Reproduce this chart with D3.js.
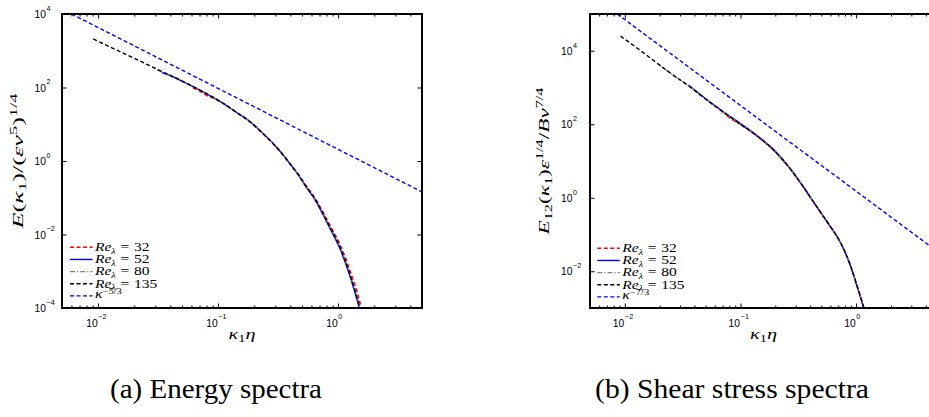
<!DOCTYPE html>
<html><head><meta charset="utf-8">
<script src="https://cdn.jsdelivr.net/npm/d3@7"></script>
<style>
body{margin:0;background:#fff}
</style>
</head><body>
<svg id="c" width="929" height="417" xmlns="http://www.w3.org/2000/svg"></svg>
<script>
// ---------- DATA ----------
// (a) Energy spectra  E(k1)/(eps nu^5)^(1/4)
const kL32  = [0.0617,0.0700,0.0794,0.0891,0.100,0.110,0.126,0.141,0.184,0.229,0.286,0.339,0.394,0.468,0.543,0.646,0.746,0.871,1.032,1.250,1.514,1.62];
const eL32  = [96,80,62,52,44,37.5,28,21.2,11.5,6.1,3.0,1.62,0.88,0.43,0.21,0.095,0.0415,0.0160,0.0056,0.0011,1.5e-4,6e-5];
const kL52  = [0.0339,0.0398,0.0582,0.0794,0.110,0.141,0.184,0.229,0.286,0.339,0.394,0.468,0.543,0.646,0.746,0.871,1.032,1.250,1.514,1.56];
const eL52  = [255,212,116,68.5,37.0,21.6,11.9,6.25,3.05,1.63,0.860,0.405,0.192,0.0851,0.0358,0.0130,0.00420,7.6e-4,8.9e-5,6e-5];
const kL80  = [0.031,0.0398,0.0582,0.0794,0.110,0.141,0.184,0.229,0.286,0.339,0.394,0.468,0.543,0.646,0.746,0.871,1.032,1.250,1.514,1.585];
const eL80  = [300,215,118,69.5,37.5,21.5,11.8,6.2,3.05,1.64,0.88,0.42,0.203,0.0905,0.0386,0.0143,0.00475,8.9e-4,1.1e-4,6.5e-5];
const kL135 = [0.00912,0.0158,0.0251,0.0398,0.0582,0.0794,0.110,0.141,0.184,0.229,0.286,0.339,0.394,0.468,0.543,0.646,0.746,0.871,1.032,1.250,1.514,1.585];
const eL135 = [2090,891,437,214,117,69.2,37.2,21.4,11.7,6.17,3.02,1.62,0.871,0.417,0.200,0.0891,0.0380,0.0141,0.00468,8.71e-4,1.07e-4,6.3e-5];
const kRefL = [0.006,5];
const eRefL = [10000,0.144];

// (b) Shear stress spectra  E12(k1) eps^(1/4) / B nu^(7/4)
const kR32  = [0.0631,0.0716,0.0800,0.0900,0.100,0.139,0.200,0.270,0.355,0.446,0.562,0.708,0.813,0.923,1.035,1.164,1.21];
const eR32  = [295,205,150,120,98,47,17.5,5.95,1.80,0.625,0.216,0.0715,0.0298,0.0104,0.00336,0.00101,0.0007];
const kR52  = [0.0355,0.0501,0.0716,0.100,0.139,0.200,0.270,0.355,0.446,0.562,0.708,0.813,0.923,1.035,1.164,1.19];
const eR52  = [1170,495,215,104,49.5,18.5,6.2,1.86,0.64,0.221,0.0730,0.0300,0.0103,0.00330,0.00098,0.00075];
const kR80  = [0.01905,0.0251,0.0372,0.0501,0.0716,0.100,0.139,0.200,0.270,0.355,0.446,0.562,0.708,0.813,0.923,1.035,1.164,1.202];
const eR80  = [4500,2380,1010,482,211,101,48.5,18.1,6.1,1.85,0.64,0.222,0.0735,0.0305,0.0107,0.00345,0.00104,0.00072];
const kR135 = [0.00918,0.01413,0.01905,0.0251,0.0372,0.0501,0.0716,0.100,0.139,0.200,0.270,0.355,0.446,0.562,0.708,0.813,0.923,1.035,1.164,1.202];
const eR135 = [25100,9330,4570,2400,1000,479,209,100,47.9,17.8,6.03,1.82,0.631,0.219,0.0724,0.0302,0.0105,0.00339,0.00102,0.00071];
const kRefR = [0.0086,5];
const eRefR = [100000,0.035];

const xMajor = [0.01,0.1,1];
const xMinor = [0.005,0.006,0.007,0.008,0.009,0.02,0.03,0.04,0.05,0.06,0.07,0.08,0.09,0.2,0.3,0.4,0.5,0.6,0.7,0.8,0.9,2,3,4,5];
const yMajorL = [1e-4,1e-2,1,1e2,1e4];
const yMajorR = [1e-2,1,1e2,1e4];
const legendRe = ["32","52","80","135"];
const captions = ["(a) Energy spectra","(b) Shear stress spectra"];

// ---------- STYLE ----------
const SERIF = "'Liberation Serif', 'Times New Roman', serif";
const SANS = "'Liberation Sans', Arial, sans-serif";
const seriesStyle = [
  {color:"#ff0000", dash:"4,2.5"},
  {color:"#0000ff", dash:null},
  {color:"#808080", dash:"5,2,1.2,2"},
  {color:"#000000", dash:"4,2.5"}
];
const refStyle = {color:"#0000ff", dash:"4,2.5"};

const svg = d3.select("#c");
svg.append("rect").attr("width",929).attr("height",417).attr("fill","#fff");

function mathText(sel, segs, size) {
  let shift = 0;
  segs.forEach(s => {
    const target = s.s==='sub' ? 0.24*size : s.s==='sup' ? -0.42*size : 0;
    const ts = sel.append("tspan").text(s.t)
      .attr("dy", target - shift)
      .attr("font-size", (s.s ? size*(s.r||0.7) : size))
      .attr("font-style", s.i ? "italic" : "normal");
    if (s.dx) ts.attr("dx", s.dx);
    shift = target;
  });
}

const panels = [
  {x0:62, x1:422, y0:14, y1:308, yDom:[1e-4,1e4], yMajor:yMajorL,
   series:[[kL32,eL32],[kL52,eL52],[kL80,eL80],[kL135,eL135]], ref:[kRefL,eRefL],
   refExp:"\u22125/3", lblOff:16, legX:70, legY:247.3,
   ylab:[{t:"E",i:1},{t:"("},{t:"κ",i:1},{t:"1",s:"sub"},{t:")"},{t:"/"},{t:"("},{t:"ε",i:1},{t:"ν",i:1},{t:"5",s:"sup"},{t:")"},{t:"1/4",s:"sup"}],
   ylabX:23, ylabLen:135, capX:216, capW:212},
  {x0:590, x1:937, y0:14, y1:308, yDom:[1e-3,1e5], yMajor:yMajorR,
   series:[[kR32,eR32],[kR52,eR52],[kR80,eR80],[kR135,eR135]], ref:[kRefR,eRefR],
   refExp:"\u22127/3", lblOff:17.5, legX:597.3, legY:248.3,
   ylab:[{t:"E",i:1},{t:"12",s:"sub"},{t:"("},{t:"κ",i:1},{t:"1",s:"sub"},{t:")"},{t:"ε",i:1},{t:"1/4",s:"sup"},{t:"/"},{t:"B",i:1},{t:"ν",i:1},{t:"7/4",s:"sup"}],
   ylabX:549, ylabLen:147, capX:732, capW:274}
];

panels.forEach((p, pi) => {
  const x = d3.scaleLog().domain([0.005,5]).range([p.x0,p.x1]);
  const y = d3.scaleLog().domain(p.yDom).range([p.y1,p.y0]);
  const g = svg.append("g");
  const clipId = "clip"+pi;
  svg.append("clipPath").attr("id",clipId).append("rect")
    .attr("x",p.x0).attr("y",p.y0).attr("width",p.x1-p.x0).attr("height",p.y1-p.y0);
  const line = d3.line().x(d=>x(d[0])).y(d=>y(d[1])).curve(d3.curveMonotoneX);
  const plot = g.append("g").attr("clip-path",`url(#${clipId})`);
  p.series.forEach((s, si) => {
    const pts = s[0].map((k,i)=>[k, s[1][i]]);
    plot.append("path").attr("d", line(pts)).attr("fill","none")
      .attr("stroke", seriesStyle[si].color).attr("stroke-width",1.4)
      .attr("stroke-dasharray", seriesStyle[si].dash);
  });
  const rpts = p.ref[0].map((k,i)=>[k,p.ref[1][i]]);
  plot.append("path").attr("d", d3.line().x(d=>x(d[0])).y(d=>y(d[1]))(rpts))
    .attr("fill","none").attr("stroke",refStyle.color).attr("stroke-width",1.4)
    .attr("stroke-dasharray",refStyle.dash);

  // axes (inward ticks)
  const mk = (axis, sc, vals, size, tr) => {
    const a = g.append("g").attr("transform",tr)
      .call(axis(sc).tickValues(vals).tickSizeInner(-size).tickSizeOuter(0).tickFormat(()=>""));
    a.select(".domain").remove();
    a.attr("font-family", SANS);
    a.selectAll(".tick line").attr("stroke","#000").attr("stroke-width",1);
    return a;
  };
  mk(d3.axisBottom, x, xMinor, 2.5, `translate(0,${p.y1})`);
  mk(d3.axisTop, x, xMinor, 2.5, `translate(0,${p.y0})`);
  const bx = mk(d3.axisBottom, x, xMajor, 4.5, `translate(0,${p.y1})`);
  mk(d3.axisTop, x, xMajor, 4.5, `translate(0,${p.y0})`);
  const ly = mk(d3.axisLeft, y, p.yMajor, 4.5, `translate(${p.x0},0)`);
  mk(d3.axisRight, y, p.yMajor, 4.5, `translate(${p.x1},0)`);

  bx.selectAll(".tick").each(function(v){
    const e = Math.round(Math.log10(v));
    const t = d3.select(this);
    t.selectAll("text").remove();
    t.append("text").attr("font-family",SANS).attr("x",-1).attr("y",18.6).attr("text-anchor","end")
      .attr("font-size",10.3).attr("fill","#000").text("10");
    t.append("text").attr("font-family",SANS).attr("x",-0.3).attr("y",11).attr("text-anchor","start")
      .attr("font-size",7.2).attr("fill","#000").text(e<0?"\u2212"+(-e):String(e));
  });
  ly.selectAll(".tick").each(function(v){
    const e = Math.round(Math.log10(v));
    const t = d3.select(this);
    t.selectAll("text").remove();
    t.append("text").attr("font-family",SANS).attr("x",-p.lblOff).attr("y",3.6).attr("text-anchor","end")
      .attr("font-size",10.3).attr("fill","#000").text("10");
    t.append("text").attr("font-family",SANS).attr("x",-p.lblOff+0.6).attr("y",-3.6).attr("text-anchor","start")
      .attr("font-size",7.2).attr("fill","#000").text(e<0?"\u2212"+(-e):String(e));
  });

  // frame
  g.append("rect").attr("x",p.x0).attr("y",p.y0).attr("width",p.x1-p.x0).attr("height",p.y1-p.y0)
    .attr("fill","none").attr("stroke","#000").attr("stroke-width",2);

  // legend
  const lg = g.append("g").attr("font-family", SERIF);
  const texts = [];
  const rowH = 12.15;
  const fs = 11.5;
  legendRe.forEach((re, i) => {
    const yy = p.legY + i*rowH;
    lg.append("line").attr("x1",p.legX).attr("x2",p.legX+22.5).attr("y1",yy).attr("y2",yy)
      .attr("stroke",seriesStyle[i].color).attr("stroke-width",1.4).attr("stroke-dasharray",seriesStyle[i].dash);
    const t = lg.append("text").attr("font-family",SERIF).attr("fill","#000");
    mathText(t, [{t:"Re",i:1},{t:"λ",s:"sub",i:1,r:0.65},{t:"=",dx:3.5},{t:re,dx:3.5}], fs);
    texts.push(t);
  });
  const yk = p.legY + 4*rowH;
  lg.append("line").attr("x1",p.legX).attr("x2",p.legX+22.5).attr("y1",yk).attr("y2",yk)
    .attr("stroke",refStyle.color).attr("stroke-width",1.4).attr("stroke-dasharray",refStyle.dash);
  const tk = lg.append("text").attr("font-family",SERIF).attr("fill","#000");
  mathText(tk, [{t:"κ",i:1},{t:p.refExp,s:"sup",r:0.68}], fs);
  const wRef = texts[3].node().getComputedTextLength();
  const kx = Math.max(0.8, Math.min(1.35, 57 / wRef));
  texts.forEach((t,i)=>{
    const yy = p.legY + i*rowH;
    t.attr("transform",`translate(${p.legX+25},${yy+3.8}) scale(${kx},1)`);
  });
  tk.attr("transform",`translate(${p.legX+25},${yk+2.5}) scale(${kx},1)`);

  // x label
  const xl = g.append("text").attr("font-family",SERIF).attr("fill","#000").attr("text-anchor","middle");
  mathText(xl, [{t:"κ",i:1},{t:"1",s:"sub"},{t:"η",i:1}], 15);
  const wx = xl.node().getComputedTextLength();
  xl.attr("transform",`translate(${(p.x0+p.x1)/2},338.5) scale(${27/wx},1)`);

  // y label
  const yl = g.append("text").attr("font-family",SERIF).attr("fill","#000").attr("text-anchor","middle");
  mathText(yl, p.ylab, 14.5);
  const wy = yl.node().getComputedTextLength();
  yl.attr("transform",`translate(${p.ylabX},${(p.y0+p.y1)/2}) rotate(-90) scale(${p.ylabLen/wy},1)`);

  // caption
  const cap = svg.append("text").attr("font-family",SERIF).attr("fill","#000")
    .attr("text-anchor","middle").attr("font-size",28).text(captions[pi]);
  const wc = cap.node().getComputedTextLength();
  cap.attr("transform",`translate(${p.capX},398) scale(${p.capW/wc},1)`);
});
</script>
</body></html>
